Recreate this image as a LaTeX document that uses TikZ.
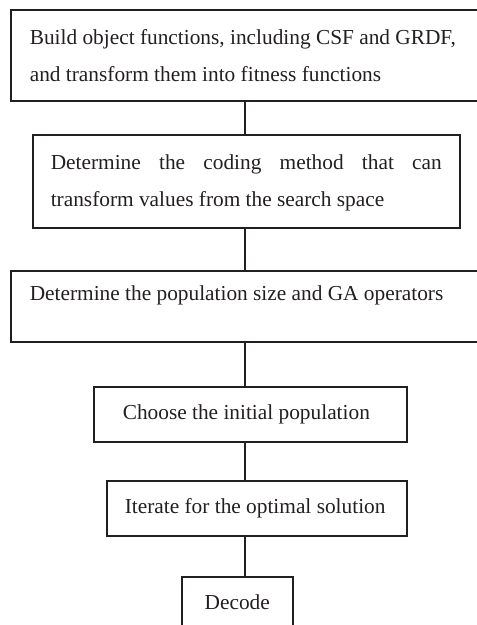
\documentclass[tikz,border=0pt]{standalone}
\usepackage{fontspec}
\setmainfont{Liberation Serif}
\usepackage{amsmath, amssymb}
\tikzset{every picture/.style={line width=1.2pt}}
\definecolor{inkline}{RGB}{35,31,32}
\tikzset{
  stage/.style={draw=inkline, text=inkline, anchor=north west, rectangle,
    font=\fontsize{16}{27.75}\selectfont, inner xsep=14.25pt},
}

\begin{document}
\begin{tikzpicture}[x=0.75pt,y=0.75pt,yscale=-1,xscale=1]
\useasboundingbox (0,0) rectangle (477,625);
\clip (0,0) rectangle (477,625);

%Shape: Rectangle [id:objfun]
\node (objfun) [stage, minimum width=367.5pt, inner ysep=0pt, text height=26.25pt, text depth=42pt, text width=339pt, align=flush left] at (10,9)
  {Build object functions, including CSF and GRDF,\\ and transform them into fitness functions};
%Shape: Rectangle [id:coding]
\node (coding) [stage, minimum width=320.25pt, inner ysep=0pt, text height=26.25pt, text depth=43.5pt, inner xsep=13.5pt, text width=293.25pt, align=flush left] at (32,134)
  {Determine\hfill the\hfill coding\hfill method\hfill that\hfill can\\ transform values from the search space};
%Shape: Rectangle [id:popsize]
\node (popsize) [stage, minimum width=367.5pt, inner ysep=0pt, text height=22.5pt, text depth=30.75pt, text width=339pt, align=flush left] at (10,270)
  {Determine the population size and GA operators};
%Shape: Rectangle [id:initpop]
\node (initpop) [stage, minimum width=234.75pt, minimum height=41.25pt, inner xsep=21.75pt, text width=191.25pt, align=flush left] at (93,386)
  {Choose the initial population};
%Shape: Rectangle [id:iterate]
\node (iterate) [stage, minimum width=225pt, minimum height=41.25pt, inner xsep=13.5pt, text width=198pt, align=flush left] at (106,480)
  {Iterate for the optimal solution};
%Shape: Rectangle [id:decode]
\node (decode) [stage, minimum width=83.25pt, inner ysep=0pt, text height=24.75pt, text depth=38.25pt] at (181,576)
  {Decode};

%Straight Lines [id:spine]
\coordinate (spine) at (245,0);
\foreach \a/\b in {objfun/coding, coding/popsize, popsize/initpop, initpop/iterate, iterate/decode}
  \draw [draw=inkline] (\a.south -| spine) -- (\b.north -| spine);

\end{tikzpicture}
\end{document}
